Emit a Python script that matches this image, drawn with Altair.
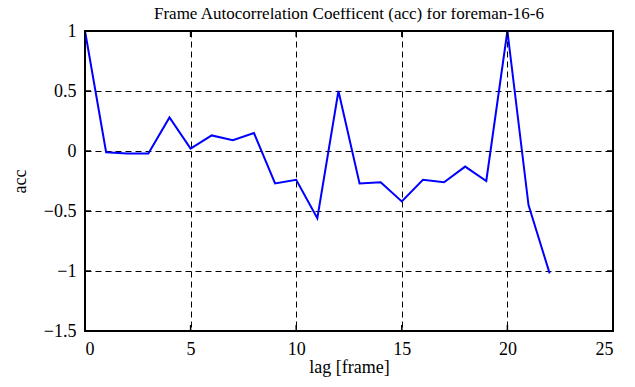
import altair as alt
import pandas as pd

lag = list(range(23))
acc = [1.0, -0.01, -0.02, -0.02, 0.28, 0.02, 0.13, 0.09, 0.15, -0.27, -0.24, -0.56,
       0.5, -0.27, -0.26, -0.42, -0.24, -0.26, -0.13, -0.25, 1.0, -0.45, -1.02]
x_ticks = [0, 5, 10, 15, 20, 25]
y_ticks = [-1.5, -1, -0.5, 0, 0.5, 1]

df = pd.DataFrame({"lag": lag, "acc": acc})
xt = pd.DataFrame({"t": x_ticks})
yt = pd.DataFrame({"t": y_ticks})

FONT = "Liberation Serif"
W, H = 528, 300
xs = alt.Scale(domain=[0, 25], nice=False, zero=False)
ys = alt.Scale(domain=[-1.5, 1], nice=False, zero=False)

axis_common = dict(labelFont=FONT, labelFontSize=18, labelColor="black",
                   titleFont=FONT, titleFontSize=18, titleFontWeight="normal",
                   titleColor="black", grid=True, gridColor="black",
                   gridDash=[6, 4], gridWidth=1, gridOpacity=1,
                   domain=False, ticks=False)
x_axis = alt.Axis(values=x_ticks, format="d", labelPadding=9, titlePadding=0,
                  **axis_common)
y_axis = alt.Axis(values=y_ticks, format="~g", labelPadding=9, titlePadding=14,
                  **axis_common)

line = alt.Chart(df).mark_line(color="#0000ff", strokeWidth=2).encode(
    x=alt.X("lag:Q", scale=xs, title="lag [frame]", axis=x_axis),
    y=alt.Y("acc:Q", scale=ys, title="acc", axis=y_axis),
)

tick_style = dict(color="black", strokeWidth=1.5)
tb = alt.Chart(xt).mark_rule(**tick_style).encode(
    x=alt.X("t:Q", scale=xs, title="lag [frame]", axis=x_axis),
    y=alt.value(H), y2=alt.value(H - 6))
tt = alt.Chart(xt).mark_rule(**tick_style).encode(
    x=alt.X("t:Q", scale=xs, title="lag [frame]", axis=x_axis),
    y=alt.value(0), y2=alt.value(6))
tl = alt.Chart(yt).mark_rule(**tick_style).encode(
    y=alt.Y("t:Q", scale=ys, title="acc", axis=y_axis),
    x=alt.value(0), x2=alt.value(6))
tr = alt.Chart(yt).mark_rule(**tick_style).encode(
    y=alt.Y("t:Q", scale=ys, title="acc", axis=y_axis),
    x=alt.value(W - 6), x2=alt.value(W))

chart = alt.layer(line, tb, tt, tl, tr).properties(
    width=W, height=H,
    title=alt.TitleParams("Frame Autocorrelation Coefficent (acc) for foreman-16-6",
                          font=FONT, fontSize=17, fontWeight="normal", color="black",
                          anchor="middle", offset=-1),
    autosize=alt.AutoSizeParams(type="none"),
    padding={"left": 77, "top": 23, "right": 14, "bottom": 48},
).configure(
    font=FONT
).configure_view(
    stroke="black", strokeWidth=2
).configure_axis(
    labelFont=FONT, titleFont=FONT
)

chart.save("out.html", embed_options={"renderer": "svg", "actions": False})
